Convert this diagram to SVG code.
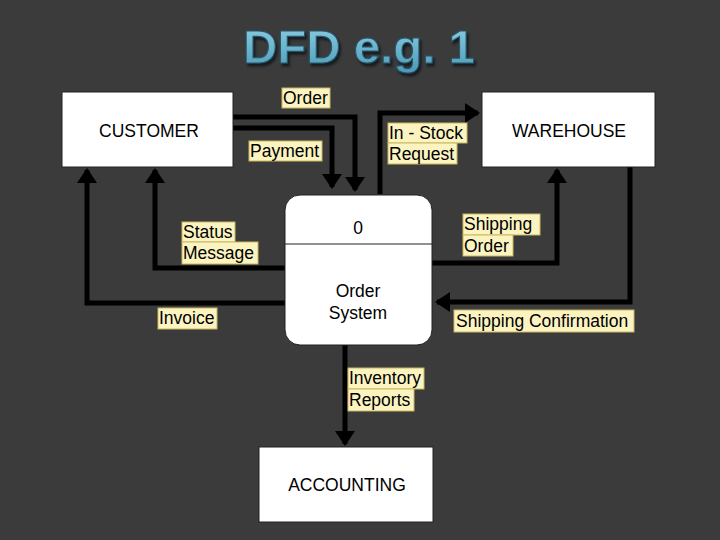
<svg xmlns="http://www.w3.org/2000/svg" width="720" height="540" viewBox="0 0 720 540">
<style>
.box{fill:#fff;stroke:#222;stroke-width:1}
.t{font-family:"Liberation Sans",Arial,sans-serif;font-size:17.5px;fill:#000}
.lb{fill:#fbf3c0;stroke:#c8b860;stroke-width:1}
.ln{fill:none;stroke:#000;stroke-width:5}
</style>
<defs>
<marker id="a" markerWidth="4" markerHeight="4" refX="2.6" refY="2" orient="auto" markerUnits="strokeWidth"><path d="M0,0L3,2L0,4z" fill="#000"/></marker>
<linearGradient id="tg" x1="0" y1="0" x2="0" y2="1"><stop offset="0" stop-color="#8fd0e6"/><stop offset="1" stop-color="#4a9ab8"/></linearGradient>
<filter id="sh" x="-10%" y="-20%" width="120%" height="150%"><feDropShadow dx="2" dy="3" stdDeviation="1" flood-color="#151d22"/></filter>
</defs>
<rect width="720" height="540" fill="#3b3b3b"/>
<text x="243" y="63" textLength="232" lengthAdjust="spacingAndGlyphs" font-family="'Liberation Sans',Arial,sans-serif" font-weight="bold" font-size="46" fill="url(#tg)" stroke="#2a5566" stroke-width="1" filter="url(#sh)">DFD e.g. 1</text>
<g id="connectors">
<path class="ln" d="M233,117H355V190" marker-end="url(#a)"/>
<path class="ln" d="M233,128H332V187" marker-end="url(#a)"/>
<path class="ln" d="M380,194V113H478" marker-end="url(#a)"/>
<path class="ln" d="M432,263H557V170" marker-end="url(#a)"/>
<path class="ln" d="M630,167V302H437" marker-end="url(#a)"/>
<path class="ln" d="M285,268H155V170" marker-end="url(#a)"/>
<path class="ln" d="M285,303H87V170" marker-end="url(#a)"/>
<path class="ln" d="M345,345V444" marker-end="url(#a)"/>
</g>
<g id="customer"><rect class="box" x="62" y="92" width="171" height="75"/><text class="t" x="149" y="137" text-anchor="middle">CUSTOMER</text></g>
<g id="warehouse"><rect class="box" x="482" y="92" width="173" height="75"/><text class="t" x="569" y="137" text-anchor="middle">WAREHOUSE</text></g>
<g id="accounting"><rect class="box" x="259" y="447" width="174" height="75"/><text class="t" x="347" y="491" text-anchor="middle">ACCOUNTING</text></g>
<g id="process"><rect class="box" x="285" y="195" width="147" height="150" rx="15"/><line x1="285" y1="244" x2="432" y2="244" stroke="#222"/><text class="t" x="358" y="234" text-anchor="middle">0</text><text class="t" x="358" y="297" text-anchor="middle">Order</text><text class="t" x="358" y="319" text-anchor="middle">System</text></g>
<g id="labels">
<rect class="lb" x="282" y="88" width="48" height="20"/><text class="t" x="283" y="104">Order</text>
<rect class="lb" x="249" y="141" width="73" height="20"/><text class="t" x="250" y="157">Payment</text>
<rect class="lb" x="388" y="123" width="79" height="20"/><rect class="lb" x="388" y="143" width="69" height="21"/><text class="t" x="389" y="139">In - Stock</text><text class="t" x="389" y="160">Request</text>
<rect class="lb" x="182" y="222" width="53" height="20"/><rect class="lb" x="182" y="242" width="76" height="22"/><text class="t" x="183" y="238">Status</text><text class="t" x="183" y="259">Message</text>
<rect class="lb" x="158" y="308" width="59" height="21"/><text class="t" x="159" y="324">Invoice</text>
<rect class="lb" x="463" y="214" width="77" height="21"/><rect class="lb" x="463" y="235" width="50" height="21"/><text class="t" x="464" y="230">Shipping</text><text class="t" x="464" y="252">Order</text>
<rect class="lb" x="454" y="310" width="180" height="22"/><text class="t" x="456" y="327">Shipping Confirmation</text>
<rect class="lb" x="348" y="368" width="76" height="21"/><rect class="lb" x="348" y="389" width="66" height="22"/><text class="t" x="349" y="384">Inventory</text><text class="t" x="349" y="406">Reports</text>
</g>
</svg>
